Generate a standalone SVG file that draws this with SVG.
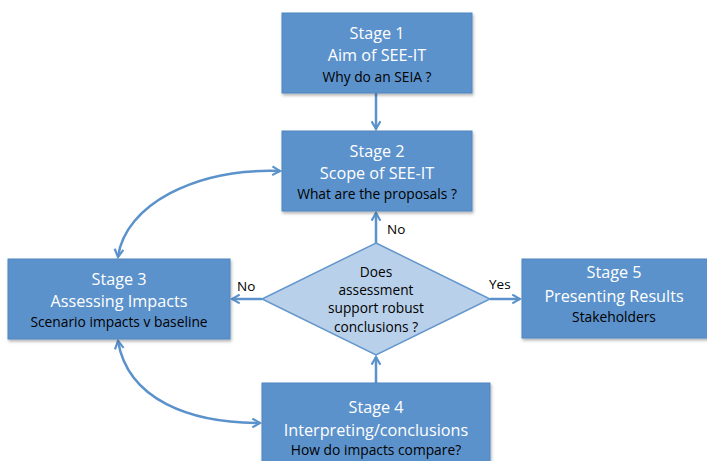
<svg xmlns="http://www.w3.org/2000/svg" width="707" height="461" viewBox="0 0 707 461">
<style>
.box{fill:#5b92cb;stroke:#4f86bf;stroke-width:1}
.dia{fill:#b8d0ea;stroke:#6396cc;stroke-width:1.5}
.t{font-family:"Open Sans","Liberation Sans",sans-serif;font-size:16.2px;fill:#ffffff;text-anchor:middle}
.s{font-family:"Open Sans","Liberation Sans",sans-serif;font-size:13.8px;fill:#000000;text-anchor:middle}
.d{font-family:"Open Sans","Liberation Sans",sans-serif;font-size:13.7px;fill:#000000;text-anchor:middle}
.l{font-family:"Open Sans","Liberation Sans",sans-serif;font-size:13.5px;fill:#000000}
.c{fill:none;stroke:#5b92cb;stroke-width:2.5}
</style>
<defs>
<filter id="sh" x="-10%" y="-10%" width="125%" height="130%">
<feDropShadow dx="1" dy="2" stdDeviation="1.5" flood-color="#000" flood-opacity="0.3"/>
</filter>
<marker id="ah" viewBox="0 0 10 10" refX="8" refY="5" markerWidth="4.4" markerHeight="4.4" orient="auto-start-reverse" markerUnits="strokeWidth">
<path d="M1,1 L8,5 L1,9" fill="none" stroke="#5b92cb" stroke-width="2"/>
</marker>
</defs>
<g id="connectors">
<line class="c" x1="376" y1="93" x2="376" y2="129" marker-end="url(#ah)"/>
<line class="c" x1="376" y1="243" x2="376" y2="213" marker-end="url(#ah)"/>
<line class="c" x1="262" y1="299" x2="232" y2="299" marker-end="url(#ah)"/>
<line class="c" x1="490" y1="299" x2="520" y2="299" marker-end="url(#ah)"/>
<line class="c" x1="376" y1="383" x2="376" y2="357" marker-end="url(#ah)"/>
<path class="c" d="M280,171 C195,168 125,205 118,257" marker-start="url(#ah)" marker-end="url(#ah)"/>
<path class="c" d="M118,341 C128,400 190,423 260,423" marker-start="url(#ah)" marker-end="url(#ah)"/>
<text class="l" x="387" y="234">No</text>
<text class="l" x="237" y="291">No</text>
<text class="l" x="489" y="289">Yes</text>
</g>
<g id="stage1">
<rect class="box" x="282" y="13" width="190" height="80" filter="url(#sh)"/>
<text class="t" x="377" y="39">Stage 1</text>
<text class="t" x="377" y="61">Aim of SEE-IT</text>
<text class="s" x="377" y="82">Why do an SEIA ?</text>
</g>
<g id="stage2">
<rect class="box" x="282" y="131" width="190" height="80" filter="url(#sh)"/>
<text class="t" x="377" y="157">Stage 2</text>
<text class="t" x="377" y="179">Scope of SEE-IT</text>
<text class="s" x="377" y="199">What are the proposals ?</text>
</g>
<g id="stage3">
<rect class="box" x="8" y="259" width="222" height="80" filter="url(#sh)"/>
<text class="t" x="119" y="285">Stage 3</text>
<text class="t" x="119" y="307">Assessing Impacts</text>
<text class="s" x="119" y="327">Scenario impacts v baseline</text>
</g>
<g id="decision">
<polygon class="dia" points="376,243 490,299 376,355 262,299"/>
<text class="d" x="376" y="277">Does</text>
<text class="d" x="376" y="295">assessment</text>
<text class="d" x="376" y="313">support robust</text>
<text class="d" x="376" y="332">conclusions ?</text>
</g>
<g id="stage5">
<rect class="box" x="522" y="259" width="190" height="79" filter="url(#sh)"/>
<text class="t" x="614" y="278">Stage 5</text>
<text class="t" x="614" y="302">Presenting Results</text>
<text class="s" x="614" y="322">Stakeholders</text>
</g>
<g id="stage4">
<rect class="box" x="262" y="383" width="228" height="85" filter="url(#sh)"/>
<text class="t" x="376" y="413">Stage 4</text>
<text class="t" x="376" y="436">Interpreting/conclusions</text>
<text class="s" x="376" y="455">How do impacts compare?</text>
</g>
</svg>
